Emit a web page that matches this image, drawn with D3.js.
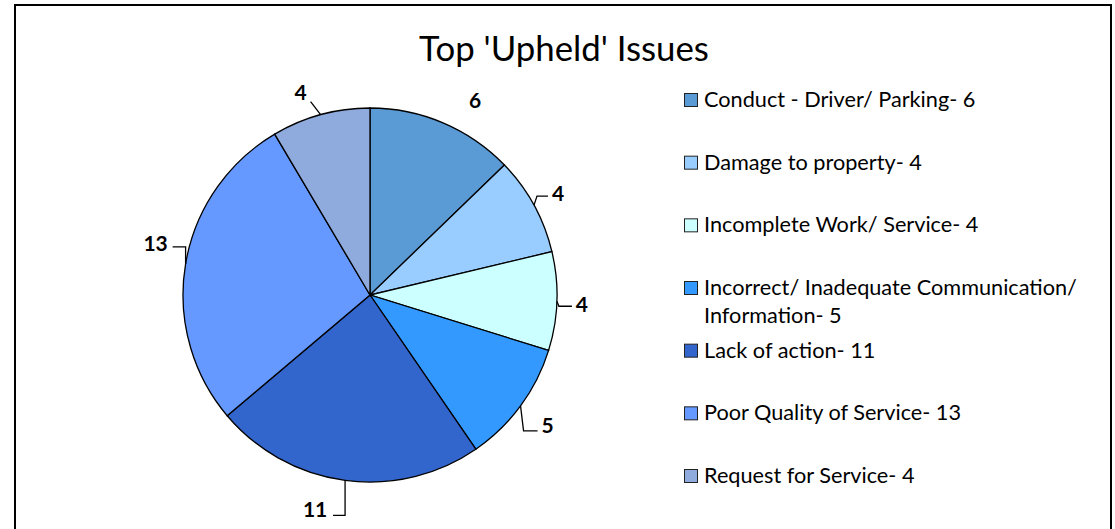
<!DOCTYPE html>
<html>
<head>
<meta charset="utf-8">
<script src="https://cdn.jsdelivr.net/npm/d3@7"></script>
<style>
  body { margin: 0; background: #ffffff; }
  svg { display: block; font-family: Lato, "Open Sans", sans-serif; }
</style>
</head>
<body>
<div class="pie-chart"></div>
<script>
// ---- data
const categories = [
  "Conduct - Driver/ Parking",
  "Damage to property",
  "Incomplete Work/ Service",
  "Incorrect/ Inadequate Communication/ Information",
  "Lack of action",
  "Poor Quality of Service",
  "Request for Service"
];
const values = [6, 4, 4, 5, 11, 13, 4];
const colors = ["#5b9bd5", "#99ccff", "#ccffff", "#3399ff", "#3366cc", "#6699ff", "#8faadc"];
const title = "Top 'Upheld' Issues";

// label offsets from the slice's outer point: [elbow dx, elbow dy, end dx, end dy, text dx, text dy]
const labelOffsets = [
  [0, 0, 0, 0, 32, -22],
  [3, -9, 14, -9, 24, -11],
  [2, 5, 15, 5, 25, 3],
  [3, 25, 17, 25, 27, 20],
  [0, 35, -12, 35, -30, 29],
  [0, -17, -13, -17, -30, -20],
  [-10, -13, -10, -13, -20, -22]
];

const width = 1115, height = 529;
const cx = 370, cy = 295, radius = 187;

const svg = d3.select(".pie-chart")
  .append("svg")
    .attr("width", width)
    .attr("height", height);

// chart frame
svg.append("rect")
  .attr("x", 15).attr("y", 5)
  .attr("width", 1096).attr("height", 540)
  .attr("fill", "#ffffff")
  .attr("stroke", "#000")
  .attr("stroke-width", 2);

// title
svg.append("text")
  .attr("x", 564).attr("y", 61)
  .attr("text-anchor", "middle")
  .style("font-size", "34.8px")
  .attr("fill", "#000")
  .text(title);

// ---- pie
const pie = d3.pie().sort(null).value(d => d);
const arc = d3.arc().innerRadius(0).outerRadius(radius);
const arcs = pie(values);

const g = svg.append("g").attr("transform", `translate(${cx},${cy})`);

g.selectAll("path")
  .data(arcs)
  .enter()
  .append("path")
    .attr("d", arc)
    .attr("fill", (d, i) => colors[i])
    .attr("stroke", "#000")
    .attr("stroke-width", 1.3);

// data labels with leader lines
arcs.forEach((d, i) => {
  const a = (d.startAngle + d.endAngle) / 2;
  const px = radius * Math.sin(a), py = -radius * Math.cos(a);
  const o = labelOffsets[i];
  if (o[2] !== 0 || o[3] !== 0) {
    g.append("path")
      .attr("d", d3.line()([[px, py], [px + o[0], py + o[1]], [px + o[2], py + o[3]]]))
      .attr("fill", "none")
      .attr("stroke", "#000")
      .attr("stroke-width", 1.3);
  }
  g.append("text")
    .attr("x", px + o[4])
    .attr("y", py + o[5])
    .attr("dy", "0.35em")
    .attr("text-anchor", "middle")
    .style("font-size", "21px")
    .style("font-weight", "bold")
    .text(values[i]);
});

// ---- legend
const ly = d3.scaleLinear().domain([0, categories.length - 1]).range([107, 483]);
const legend = svg.append("g");

categories.forEach((c, i) => {
  const y0 = ly(i);
  legend.append("rect")
    .attr("x", 684.5).attr("y", y0 - 13.5)
    .attr("width", 13).attr("height", 13)
    .attr("fill", colors[i])
    .attr("stroke", "#222")
    .attr("stroke-width", 1);

  const t = legend.append("text")
    .attr("x", 704).attr("y", y0)
    .style("font-size", "21.7px")
    .attr("fill", "#000");

  // wrap long names
  const words = (c + "- " + values[i]).split(" ");
  let line = [], tspan = t.append("tspan").attr("x", 704).attr("y", y0), row = 0;
  words.forEach(w => {
    line.push(w);
    tspan.text(line.join(" "));
    if (tspan.node().getComputedTextLength() > 395 && line.length > 1) {
      line.pop();
      tspan.text(line.join(" "));
      line = [w];
      row++;
      tspan = t.append("tspan").attr("x", 704).attr("y", y0 + row * 28).text(w);
    }
  });
});
</script>
</body>
</html>
